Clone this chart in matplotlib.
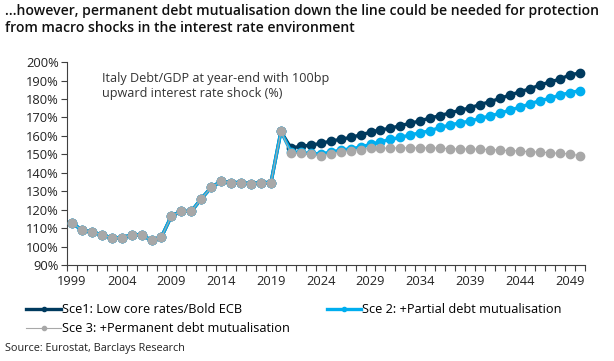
import numpy as np
import matplotlib.pyplot as plt
from matplotlib.lines import Line2D

plt.rcParams['font.family'] = ['Open Sans', 'DejaVu Sans']

# Data (Debt/GDP, %)
years = list(range(1999, 2051))
history = [113.0, 108.8, 108.0, 106.3, 104.8, 104.8, 106.3, 106.3, 103.4, 105.2,
           116.6, 119.1, 119.1, 125.9, 132.1, 135.4, 134.7, 134.7, 134.0, 134.7,
           134.7, 162.4]
sce1_proj = [153.5, 154.3, 155.0, 155.9, 157.2, 158.1, 159.2, 160.5, 162.0, 163.3,
             164.1, 165.6, 166.8, 168.2, 169.7, 171.0, 172.5, 173.9, 175.2, 177.0,
             178.5, 180.3, 182.1, 183.9, 185.5, 187.5, 189.2, 190.7, 193.0, 194.1]
sce2_proj = [151.5, 151.0, 150.5, 150.2, 151.2, 152.3, 153.0, 153.9, 155.4, 156.8,
             158.1, 159.2, 160.5, 161.7, 162.8, 164.6, 165.9, 167.1, 168.0, 169.5,
             170.8, 172.2, 174.0, 175.5, 177.3, 179.1, 180.3, 182.1, 183.4, 184.5]
sce3_proj = [150.8, 150.5, 150.0, 149.2, 150.3, 151.4, 152.0, 152.6, 153.2, 153.3,
             153.4, 153.5, 153.5, 153.5, 153.5, 153.4, 153.0, 152.9, 152.9, 152.8,
             152.6, 152.3, 152.0, 151.8, 151.4, 151.2, 150.9, 150.5, 150.2, 149.3]
sce1 = history + sce1_proj
sce2 = history + sce2_proj
sce3 = history + sce3_proj

labels = ["Sce1: Low core rates/Bold ECB",
          "Sce 2: +Partial debt mutualisation",
          "Sce 3: +Permanent debt mutualisation"]
dark, light, grey = '#003a5e', '#00aeef', '#a8a8a8'
axis_col = '#404040'

fig = plt.figure(figsize=(6.14, 3.61), dpi=100)
ax = fig.add_axes([0.109, 0.266, 0.843, 0.562])

ax.plot(years, sce1, color=dark, lw=2.4, marker='o', ms=6, zorder=2)
ax.plot(years, sce2, color=light, lw=2.4, marker='o', ms=6, zorder=3)
ax.plot(years, sce3, color=grey, lw=0.8, marker='o', ms=6, zorder=4)

ax.set_xlim(1998.5, 2050.5)
ax.set_ylim(90, 200)
ax.set_yticks(np.arange(90, 201, 10))
ax.set_yticklabels([f"{v}%" for v in range(90, 201, 10)])
ax.set_xticks(range(1999, 2051, 5))
ax.set_xticks(np.arange(1998.5, 2051, 1), minor=True)
ax.tick_params(axis='x', which='major', length=0, pad=7, labelsize=9.3, labelcolor='#222222')
ax.tick_params(axis='x', which='minor', length=4, width=0.8, color=axis_col, direction='out')
ax.tick_params(axis='y', length=4, width=0.8, color=axis_col, labelsize=9.3,
               labelcolor='#222222', pad=2)
for s in ['top', 'right']:
    ax.spines[s].set_visible(False)
for s in ['left', 'bottom']:
    ax.spines[s].set_color(axis_col)
    ax.spines[s].set_linewidth(0.8)

ax.text(0.067, 0.95, "Italy Debt/GDP at year-end with 100bp\nupward interest rate shock (%)",
        transform=ax.transAxes, ha='left', va='top', fontsize=9.1, color='#333333',
        linespacing=1.2)

fig.text(0.008, 0.988, "…however, permanent debt mutualisation down the line could be needed for protection\n"
         "from macro shocks in the interest rate environment",
         ha='left', va='top', fontsize=10.1, fontweight='semibold', color='#111111',
         linespacing=1.25)

h1 = Line2D([], [], color=dark, lw=2.4, marker='o', ms=3)
h2 = Line2D([], [], color=light, lw=2.4, marker='o', ms=3)
h3 = Line2D([], [], color=grey, lw=0.8, marker='o', ms=3)
leg_kw = dict(frameon=False, fontsize=9.2, handlelength=2.7, handletextpad=0.1,
              labelspacing=0.45, borderaxespad=0, borderpad=0)
fig.legend([h1, h3], [labels[0], labels[2]], loc='upper left',
           bbox_to_anchor=(0.043, 0.16), **leg_kw)
fig.legend([h2], [labels[1]], loc='upper left',
           bbox_to_anchor=(0.532, 0.16), **leg_kw)

fig.text(0.008, 0.035, "Source: Eurostat, Barclays Research", ha='left', va='center',
         fontsize=7.85, color='#222222')

fig.savefig('out.png', dpi=100)
